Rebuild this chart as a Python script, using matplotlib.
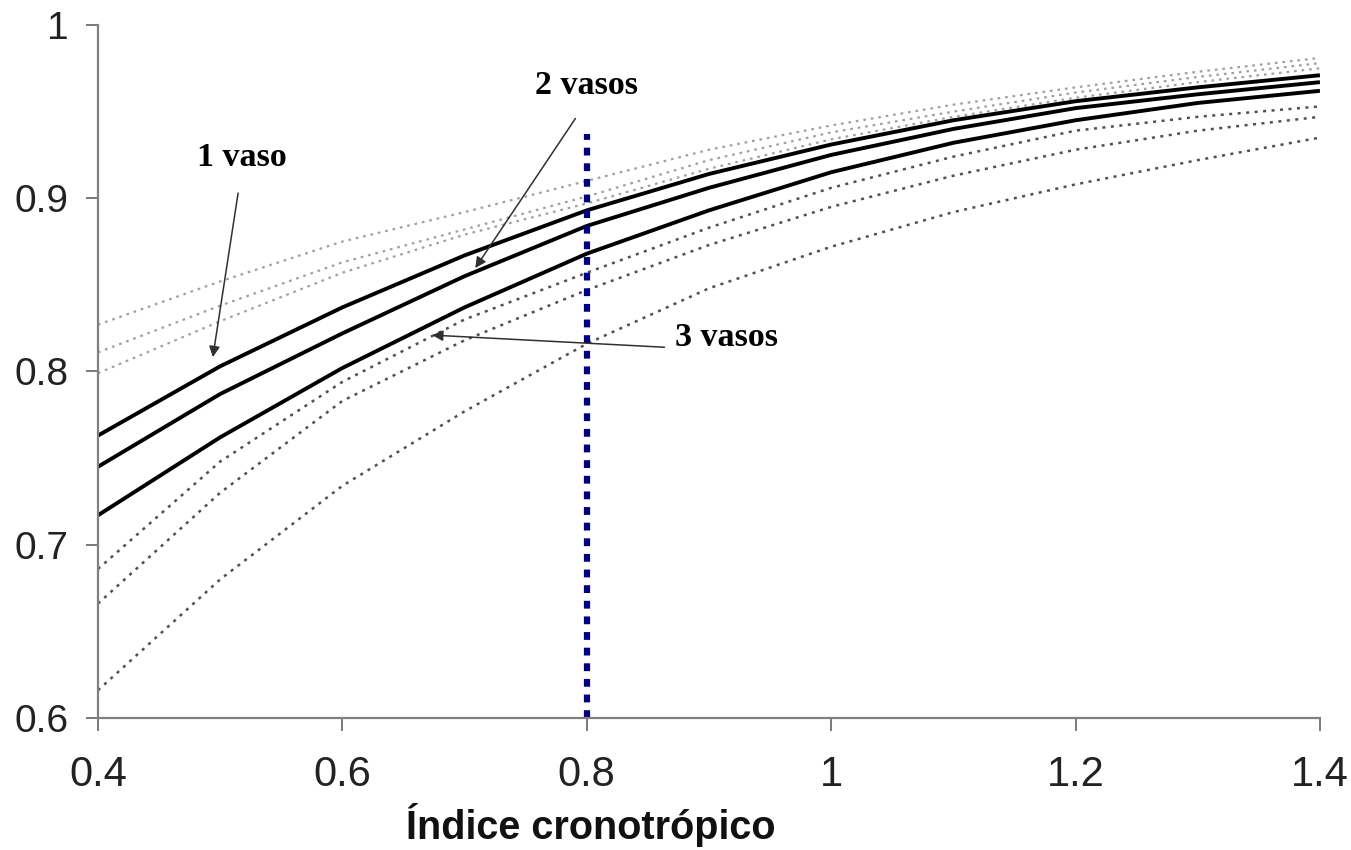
import matplotlib
matplotlib.use('Agg')
import matplotlib.pyplot as plt

# Índice cronotrópico (x) vs probabilidad (y)
ci = [0.4, 0.5, 0.6, 0.7, 0.8, 0.9, 1.0, 1.1, 1.2, 1.3, 1.4]

# solid curves
vaso1 = [0.763, 0.803, 0.837, 0.867, 0.893, 0.914, 0.931, 0.945, 0.956, 0.964, 0.971]
vaso2 = [0.745, 0.787, 0.822, 0.855, 0.884, 0.906, 0.925, 0.940, 0.952, 0.960, 0.967]
vaso3 = [0.717, 0.762, 0.802, 0.837, 0.868, 0.893, 0.915, 0.932, 0.945, 0.955, 0.962]

# dotted bands above the curves
sup1 = [0.827, 0.852, 0.875, 0.892, 0.910, 0.928, 0.942, 0.954, 0.964, 0.973, 0.981]
sup2 = [0.811, 0.838, 0.863, 0.882, 0.901, 0.922, 0.938, 0.950, 0.961, 0.970, 0.978]
sup3 = [0.799, 0.829, 0.857, 0.879, 0.897, 0.917, 0.934, 0.947, 0.958, 0.967, 0.975]

# dotted bands below the curves
inf1 = [0.686, 0.748, 0.794, 0.830, 0.857, 0.883, 0.906, 0.924, 0.939, 0.947, 0.953]
inf2 = [0.666, 0.730, 0.783, 0.818, 0.847, 0.873, 0.895, 0.913, 0.928, 0.939, 0.947]
inf3 = [0.616, 0.680, 0.734, 0.777, 0.816, 0.848, 0.872, 0.892, 0.908, 0.922, 0.935]

corte_x = 0.8
corte_top = 0.937

plt.rcParams['font.family'] = ['Liberation Sans', 'DejaVu Sans']

fig = plt.figure(figsize=(13.51, 8.5), dpi=100)
ax = fig.add_axes([0.0725, 0.1553, 0.9045, 0.8153])

for s in (sup1, sup2, sup3):
    ax.plot(ci, s, color='#a0a0a0', lw=1.6, ls=(0, (1.2, 2.2)))
for s in (inf1, inf2, inf3):
    ax.plot(ci, s, color='#505050', lw=1.8, ls=(0, (1.2, 2.2)))
for s in (vaso1, vaso2, vaso3):
    ax.plot(ci, s, color='black', lw=2.8, solid_capstyle='butt')

ax.plot([corte_x, corte_x], [0.6, corte_top], color='#00007f', lw=4.5,
        ls=(0, (1.25, 1.25)), solid_capstyle='butt', dash_capstyle='butt')

# annotations
serif = dict(family=['Liberation Serif', 'DejaVu Serif'], fontsize=24.5,
             fontweight='bold', color='black')
arrow = dict(arrowstyle='-|>', color='#303030', lw=1.1, mutation_scale=16,
             shrinkA=0, shrinkB=0)
ax.text(0.518, 0.9237, '1 vaso', ha='center', va='center', **serif)
ax.annotate('', xy=(0.494, 0.8083), xytext=(0.5147, 0.903), arrowprops=arrow)
ax.text(0.800, 0.965, '2 vasos', ha='center', va='center', **serif)
ax.annotate('', xy=(0.7088, 0.8597), xytext=(0.7907, 0.946), arrowprops=arrow)
ax.text(0.914, 0.8198, '3 vasos', ha='center', va='center', **serif)
ax.annotate('', xy=(0.6735, 0.821), xytext=(0.8636, 0.814), arrowprops=arrow)

ax.set_xlim(0.4, 1.4)
ax.set_ylim(0.6, 1.0)
ax.set_xticks([0.4, 0.6, 0.8, 1.0, 1.2, 1.4])
ax.set_xticklabels(['0.4', '0.6', '0.8', '1', '1.2', '1.4'])
ax.set_yticks([0.6, 0.7, 0.8, 0.9, 1.0])
ax.set_yticklabels(['0.6', '0.7', '0.8', '0.9', '1'])

for side in ('top', 'right'):
    ax.spines[side].set_visible(False)
for side in ('left', 'bottom'):
    ax.spines[side].set_color('#808080')
    ax.spines[side].set_linewidth(1.6)

ax.tick_params(axis='both', direction='out', length=9, width=1.3, color='#707070',
               labelcolor='#222222')
ax.tick_params(axis='x', labelsize=30, pad=18)
ax.tick_params(axis='y', labelsize=28, pad=12)

fig.text(0.4375, 0.029, 'Índice cronotrópico', ha='center', va='center',
         fontsize=28.5, fontweight='bold', color='#111111')

fig.savefig('out.png', dpi=100)
